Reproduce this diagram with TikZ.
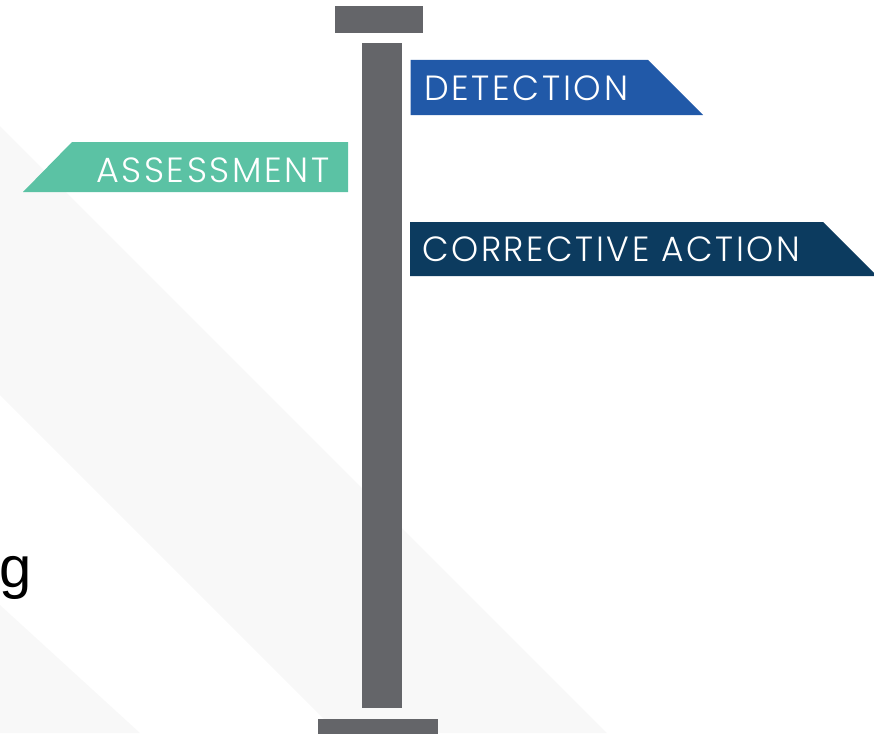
\documentclass[tikz,border=0pt]{standalone}
\usepackage{fontspec}
\newfontfamily\bannerfont{Poppins}[UprightFont=* Light, LetterSpace=7.5]
\newfontfamily\arialfont{Liberation Sans}
\definecolor{polegray}{HTML}{646569}
\definecolor{bandgray}{HTML}{F8F8F8}
\definecolor{detblue}{HTML}{2159A8}
\definecolor{corrnavy}{HTML}{0C3B5F}
\definecolor{assteal}{HTML}{5BC2A4}
\tikzset{
  polepart/.style={fill=polegray, draw=none},
  bannertext/.style={text=white, font=\bannerfont\fontsize{35}{35}\selectfont, inner sep=0pt, anchor=base west},
}
\begin{document}
\begin{tikzpicture}[x=1pt,y=-1pt]
\useasboundingbox (0,0) rectangle (874,733);
% background bands
\fill[bandgray] (0,126) -- (607,733) -- (338,733) -- (0,395) -- cycle;
\fill[bandgray] (0,605) -- (140,733) -- (0,733) -- cycle;
% partial word at left
\node[anchor=base west, inner sep=0pt, font=\arialfont\fontsize{58}{58}\selectfont] (gword) at (-1,587) {g};
% signpost
\fill[polepart] (335,6) rectangle (422.7,33);
\node[polepart, minimum width=40pt, minimum height=665pt, inner sep=0pt, anchor=north west] (pole) at (361.7,43) {};
\fill[polepart] (318,719) rectangle (438,740);
% banners
\fill[detblue] (410.7,60) -- (648,60) -- (703,115) -- (410.7,115) -- cycle;
\node[bannertext] (det) at (424,101) {DETECTION};
\fill[assteal] (72,142) -- (348,142) -- (348,192) -- (23,192) -- cycle;
\node[bannertext] (ass) at (96,182) {ASSESSMENT};
\fill[corrnavy] (410,222) -- (823,222) -- (877,276) -- (410,276) -- cycle;
\node[bannertext, xscale=0.985] (corr) at (422,261) {CORRECTIVE ACTION};
\end{tikzpicture}
\end{document}
